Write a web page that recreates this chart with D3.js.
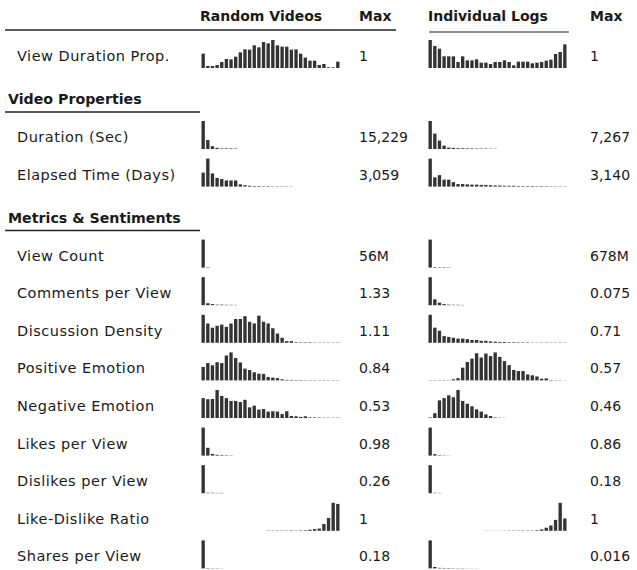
<!DOCTYPE html>
<html>
<head>
<meta charset="utf-8">
<script src="https://cdn.jsdelivr.net/npm/d3@7"></script>
<style>
  body { margin: 0; background: #fff; }
  svg text { font-family: "DejaVu Sans", sans-serif; fill: #1a1a1a; }
</style>
</head>
<body>
<svg id="chart" width="637" height="570"></svg>
<script>
// column headings
var colHeads = ["Random Videos", "Max", "Individual Logs", "Max"];
var sections = ["Video Properties", "Metrics & Sentiments"];

var rowLabels = ["View Duration Prop.", "Duration (Sec)", "Elapsed Time (Days)",
  "View Count", "Comments per View", "Discussion Density", "Positive Emotion",
  "Negative Emotion", "Likes per View", "Dislikes per View", "Like-Dislike Ratio",
  "Shares per View"];
// -1 = no section, otherwise index into sections
var rowSection = [-1, 0, 0, 1, 1, 1, 1, 1, 1, 1, 1, 1];

var maxRandom = ["1", "15,229", "3,059", "56M", "1.33", "1.11", "0.84", "0.53", "0.98", "0.26", "1", "0.18"];
var maxLogs = ["1", "7,267", "3,140", "678M", "0.075", "0.71", "0.57", "0.46", "0.86", "0.18", "1", "0.016"];

// histogram bins (30 per histogram, missing bins are empty), relative counts
var randViewDur = [43,6,6,9,18,27,26,34,47,56,55,68,62,78,74,84,68,64,64,55,56,43,31,22,22,9,12,2,2,19];
var logsViewDur = [84,66,58,35,35,35,18,35,23,23,26,16,16,12,18,18,23,18,8,19,19,19,14,16,18,22,25,42,48,71];
var randDuration = [100,32,10,4,2,2,2,1.5];
var logsDuration = [100,55,30,12,5,4,3,2.5,2,2,1.5,1.5,1.5,1,1];
var randElapsed = [50,100,47,31,27,22,22,22,8,5,3,2,2,1.5,1.5,1,1,1,1,0.8];
var logsElapsed = [100,33,41,25,25,16,9,9,8,7,7,6,6,5,4,4,3,3,3,2,2,2,2,1.5,1.5,1.5,1,1,1,1];
var randViewCount = [100,1.5];
var logsViewCount = [100,2,1.5,1.5,1];
var randComments = [100,7,4,2,2,1.5,1.5,1];
var logsComments = [100,21,9,4,2,1.5,1.5,1];
var randDiscussion = [100,69,54,61,65,57,69,85,85,95,75,69,97,75,69,52,33,18,6,6,2,1.5,1.5,1.5,1,1,1,1,1,1];
var logsDiscussion = [100,54,43,24,21,18,15,15,13,10,10,7,7,5,4,3,3,2,2,1.5,1.5,1.5,1,1,1,1,1,1,1,1];
var randPositive = [48,62,54,65,62,89,100,80,64,42,37,29,24,23,12,10,8,4,2,2,1.5,1.5,1,1,1,1,1,1,1,1];
var logsPositive = [1,1,1,1,1,4,8,45,65,77,96,81,95,86,99,83,68,54,37,33,33,21,18,14,6,7,1.5,1,1,0.5];
var randNegative = [71,67,68,100,79,71,61,61,57,65,38,44,30,32,23,24,23,14,24,7,6,4,6,2,2,1.5,1,1,1,1];
var logsNegative = [2,17,63,71,81,74,100,61,51,42,31,23,13,7,2,1,0.5];
var randLikes = [100,28,6,3,2,1.5,1];
var logsLikes = [100,5,1.5,1,0.5];
var randDislikes = [100,1.5,1.5,1,1];
var logsDislikes = [100,1.5,1];
var randLikeRatio = [0,0,0,0,0,0,0,0,0,0,0,0,0,0,1,1,1,1,1,1.5,1,1.5,2,4,6,8,24,46,100,96];
var logsLikeRatio = [0,0,0,0,0,0,0,0,0,0,0,0,0.5,0.5,0.5,0.5,0.5,1,1,1,1,1,1,2,5,11,19,39,100,44];
var randShares = [100,1.5,1,1,0.5];
var logsShares = [100,5,2,1.5,1.5,1,1,1,0.5,0.5,0.5];

var histRandom = [randViewDur, randDuration, randElapsed, randViewCount, randComments,
  randDiscussion, randPositive, randNegative, randLikes, randDislikes, randLikeRatio, randShares];
var histLogs = [logsViewDur, logsDuration, logsElapsed, logsViewCount, logsComments,
  logsDiscussion, logsPositive, logsNegative, logsLikes, logsDislikes, logsLikeRatio, logsShares];

var svg = d3.select("#chart");
var nBins = 30;
var histH = 28;

// x positions of the columns
var xRand = d3.scaleBand().domain(d3.range(nBins)).range([201.5, 339.5]).paddingInner(0.28);
var xLogs = d3.scaleBand().domain(d3.range(nBins)).range([428.5, 566.5]).paddingInner(0.28);
var colX = [200, 359, 428, 590];

// header
svg.selectAll("text.colhead").data(colHeads).enter().append("text")
    .attr("class", "colhead")
    .attr("x", function(d, i) { return colX[i]; })
    .attr("y", 16)
    .attr("dominant-baseline", "central")
    .attr("font-size", 14)
    .attr("font-weight", "bold")
    .text(function(d) { return d; });

svg.append("line").attr("x1", 5).attr("x2", 396).attr("y1", 30).attr("y2", 30)
    .attr("stroke", "#222").attr("stroke-width", 1.5);
svg.append("line").attr("x1", 429).attr("x2", 569).attr("y1", 32).attr("y2", 32)
    .attr("stroke", "#222").attr("stroke-width", 1);

// vertical layout: walk down the rows
var rowY = [];
var secY = [];
var y = 56;
rowLabels.forEach(function(d, i) {
    if (i > 0 && rowSection[i] != rowSection[i - 1]) {
        y += 43;
        secY.push(y);
        y += 38;
    } else if (i > 0) {
        y += 37.6;
    }
    rowY.push(y);
});

// section titles
sections.forEach(function(s, k) {
    svg.append("text")
        .attr("x", 8).attr("y", secY[k])
        .attr("dominant-baseline", "central")
        .attr("font-size", 14.2)
        .attr("font-weight", "bold")
        .text(s);
    svg.append("line").attr("x1", 5).attr("x2", 200)
        .attr("y1", secY[k] + 13).attr("y2", secY[k] + 13)
        .attr("stroke", "#222").attr("stroke-width", 1.5);
});

var rows = svg.selectAll("g.row").data(rowLabels).enter().append("g")
    .attr("class", "row")
    .attr("transform", function(d, i) { return "translate(0," + rowY[i] + ")"; });

rows.append("text")
    .attr("x", 17).attr("dominant-baseline", "central")
    .attr("font-size", 14.5)
    .attr("letter-spacing", 0.5)
    .text(function(d) { return d; });

rows.append("text")
    .attr("x", colX[1]).attr("dominant-baseline", "central")
    .attr("font-size", 14)
    .text(function(d, i) { return maxRandom[i]; });

rows.append("text")
    .attr("x", colX[3]).attr("dominant-baseline", "central")
    .attr("font-size", 14)
    .text(function(d, i) { return maxLogs[i]; });

function drawHist(g, vals, xs) {
    var yS = d3.scaleLinear().domain([0, d3.max(vals)]).range([0, histH]);
    g.selectAll("rect").data(vals).enter().append("rect")
        .attr("x", function(d, j) { return xs(j); })
        .attr("width", xs.bandwidth())
        .attr("y", function(d) { return 12 - yS(d); })
        .attr("height", function(d) { return yS(d); })
        .attr("fill", "#333");
}

rows.each(function(d, i) {
    var g = d3.select(this);
    drawHist(g.append("g"), histRandom[i], xRand);
    drawHist(g.append("g"), histLogs[i], xLogs);
});
</script>
</body>
</html>
